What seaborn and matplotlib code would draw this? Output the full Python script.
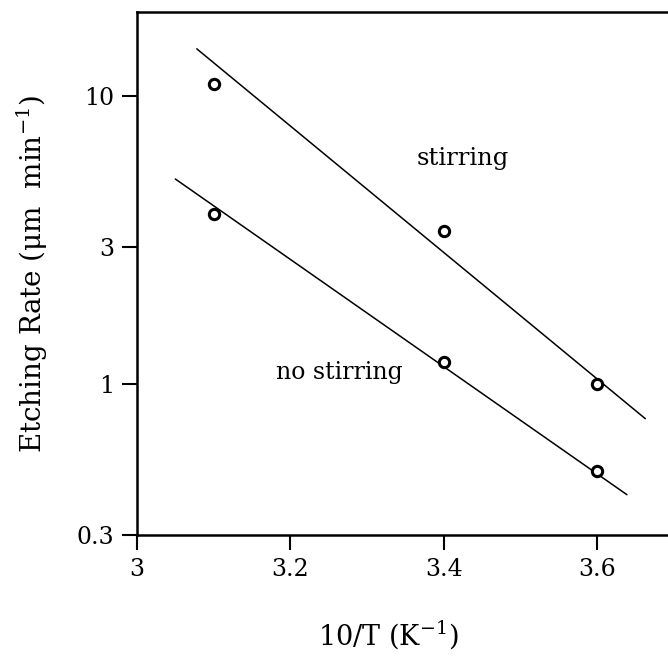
import numpy as np
import pandas as pd
import matplotlib
matplotlib.use("Agg")
import matplotlib.pyplot as plt
import matplotlib.ticker as mticker
import seaborn as sns

# ---- data ----
inv_temp = [3.1, 3.4, 3.6]
rate_stirring = [11.0, 3.4, 1.0]
rate_no_stirring = [3.9, 1.2, 0.50]

fit_stirring_x = [3.078, 3.663]
fit_stirring_y = [14.6, 0.76]
fit_no_stirring_x = [3.050, 3.639]
fit_no_stirring_y = [5.16, 0.414]

x_ticks = [3.0, 3.2, 3.4, 3.6]
x_tick_labels = ["3", "3.2", "3.4", "3.6"]
y_ticks = [0.3, 1, 3, 10]
y_tick_labels = ["0.3", "1", "3", "10"]

sns.set_theme(style="ticks")
FONT = "DejaVu Serif"
plt.rcParams["font.family"] = [FONT]
plt.rcParams["mathtext.fontset"] = "custom"
plt.rcParams["mathtext.rm"] = FONT
plt.rcParams["mathtext.it"] = FONT + ":italic"
plt.rcParams["text.color"] = "black"
plt.rcParams["axes.labelcolor"] = "black"
plt.rcParams["xtick.color"] = "black"
plt.rcParams["ytick.color"] = "black"

fig = plt.figure(figsize=(6.68, 6.57), dpi=100)
W, H = 668, 657
ax = fig.add_axes([137 / W, (H - 535) / H, 536.7 / W, 523 / H])

pts = pd.DataFrame({
    "x": inv_temp * 2,
    "rate": rate_stirring + rate_no_stirring,
    "cond": ["stirring"] * 3 + ["no stirring"] * 3,
})
fits = pd.DataFrame({
    "x": fit_stirring_x + fit_no_stirring_x,
    "rate": fit_stirring_y + fit_no_stirring_y,
    "cond": ["stirring"] * 2 + ["no stirring"] * 2,
})

sns.lineplot(data=fits, x="x", y="rate", units="cond", estimator=None,
             color="black", lw=1.1, ax=ax, legend=False)
sns.scatterplot(data=pts, x="x", y="rate", marker="o", s=55,
                facecolor="white", edgecolor="black", linewidth=2.2,
                ax=ax, legend=False, zorder=3)

ax.set_yscale("log")
ax.set_xlim(3.0, 3.7)
ax.set_ylim(0.3, 19.6)
ax.yaxis.set_major_locator(mticker.FixedLocator(y_ticks))
ax.yaxis.set_minor_locator(mticker.NullLocator())
ax.set_yticklabels(y_tick_labels)
ax.set_xticks(x_ticks)
ax.set_xticklabels(x_tick_labels)

for s in ax.spines.values():
    s.set_linewidth(1.8)
    s.set_color("black")
ax.tick_params(axis="both", direction="out", length=10.5, width=1.5,
               labelsize=17, colors="black", pad=6)

ax.set_xlabel(r"10/T (K$^{\mathregular{-1}}$)", fontsize=19.5, color="black")
ax.set_ylabel(r"Etching Rate ($\mathregular{\mu}$m  min$^{\mathregular{-1}}$)",
              fontsize=20, color="black")
ax.xaxis.set_label_coords((388 - 137) / 536.7, -(635 - 535) / 523, transform=ax.transAxes)
ax.yaxis.set_label_coords(-(137 - 32) / 536.7, 0.5, transform=ax.transAxes)
ax.xaxis.label.set_va("center")
ax.yaxis.label.set_va("center")

ax.text(3.365, 6.1, "stirring", fontsize=17.5, ha="left", va="center", color="black")
ax.text(3.181, 1.0 * 10 ** (12 / 292.5), "no stirring", fontsize=17,
        ha="left", va="center", color="black")

fig.savefig("out.png", dpi=100)
